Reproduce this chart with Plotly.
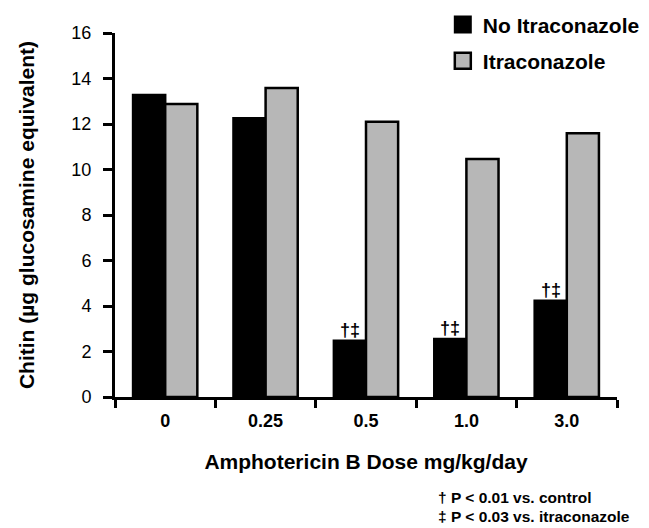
import plotly.graph_objects as go

doses = ["0", "0.25", "0.5", "1.0", "3.0"]
no_itra = [13.27, 12.25, 2.47, 2.55, 4.23]
itra = [12.88, 13.58, 12.1, 10.46, 11.59]
marks = ["", "", "†‡", "†‡", "†‡"]
y_ticks = [0, 2, 4, 6, 8, 10, 12, 14, 16]
footnotes = ["† P < 0.01 vs. control", "‡ P < 0.03 vs. itraconazole"]

FONT = "Liberation Sans, Arial, sans-serif"
BLACK = "#000000"
GRAY = "#b7b7b7"

# page body has an 8px margin; figure is sized to fit the 649x528 window
W, H = 641, 520
L, T, R, B = 107, 25, 32, 131
PW, PH = W - L - R, H - T - B

fig = go.Figure()
fig.add_trace(go.Bar(
    x=doses, y=no_itra, name="No Itraconazole", showlegend=False,
    marker=dict(color=BLACK, line=dict(color=BLACK, width=2.5)),
))
fig.add_trace(go.Bar(
    x=doses, y=itra, name="Itraconazole", showlegend=False,
    marker=dict(color=GRAY, line=dict(color=BLACK, width=2.5)),
))
# legend entries (square swatches)
fig.add_trace(go.Scatter(
    x=[None], y=[None], mode="markers", name="<b>No Itraconazole</b>",
    marker=dict(symbol="square", size=17, color=BLACK, line=dict(color=BLACK, width=2)),
    legendgroup="a",
))
fig.add_trace(go.Scatter(
    x=[None], y=[None], mode="markers", name="<b>Itraconazole</b>",
    marker=dict(symbol="square", size=17, color=GRAY, line=dict(color=BLACK, width=2.5)),
    legendgroup="b",
))

for i, (v, m) in enumerate(zip(no_itra, marks)):
    if m:
        fig.add_annotation(x=i, y=v, text="<b>" + m + "</b>", showarrow=False,
                           xshift=-16, yanchor="bottom", yshift=-1,
                           font=dict(family=FONT, size=18, color=BLACK))

for k, t in enumerate(footnotes):
    fig.add_annotation(xref="paper", yref="paper",
                       x=(436 - 8 - L) / PW, y=-(498 + 18 * k - 8 - (T + PH)) / PH,
                       xanchor="left", yanchor="middle", showarrow=False,
                       text="<b>" + t.replace("<", "&lt;") + "</b>",
                       font=dict(family=FONT, size=15.5, color=BLACK))

fig.update_layout(
    width=W, height=H,
    margin=dict(l=L, r=R, t=T, b=B, autoexpand=False),
    paper_bgcolor="white", plot_bgcolor="white",
    barmode="group", bargap=0.36, bargroupgap=0,
    font=dict(family=FONT, color=BLACK),
    showlegend=True,
    legend=dict(x=0.653, y=1.079, xanchor="left", yanchor="top",
                font=dict(family=FONT, size=21, color=BLACK),
                tracegroupgap=6, itemwidth=30, bgcolor="rgba(0,0,0,0)"),
    xaxis=dict(
        type="category", range=[-0.5, 4.5],
        showline=True, linecolor=BLACK, linewidth=3,
        ticks="outside", tickson="boundaries", ticklen=8, tickwidth=2.5, tickcolor=BLACK,
        ticklabelstandoff=5,
        tickfont=dict(family=FONT, size=18, color=BLACK),
        tickprefix="<b>", ticksuffix="</b>",
        title=dict(text="<b>Amphotericin B Dose mg/kg/day</b>", standoff=25,
                   font=dict(family=FONT, size=21, color=BLACK)),
        showgrid=False, zeroline=False,
    ),
    yaxis=dict(
        range=[0, 16], tickvals=y_ticks,
        showline=True, linecolor=BLACK, linewidth=3,
        ticks="outside", ticklen=9, tickwidth=2.5, tickcolor=BLACK,
        ticklabelstandoff=8,
        tickfont=dict(family=FONT, size=18, color=BLACK),
        tickprefix="<b>", ticksuffix="</b>",
        title=dict(text="<b>Chitin (µg glucosamine equivalent)</b>", standoff=32,
                   font=dict(family=FONT, size=21, color=BLACK)),
        showgrid=False, zeroline=False,
    ),
)

fig.write_html("out.html")
